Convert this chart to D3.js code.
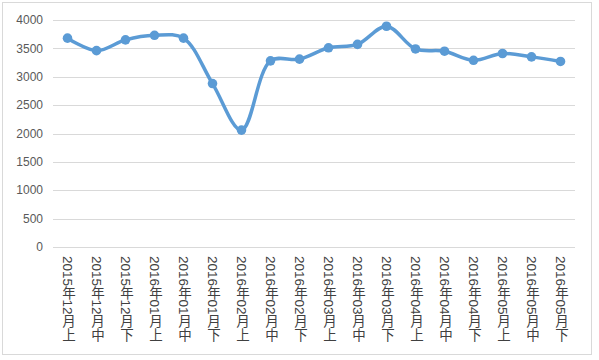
<!DOCTYPE html>
<html><head><meta charset="utf-8">
<script src="https://cdn.jsdelivr.net/npm/d3@7"></script>
<style>body{margin:0;background:#fff}svg{display:block}</style>
</head><body>
<svg id="c" width="599" height="360"></svg>
<script>
const categories = ["2015年12月上","2015年12月中","2015年12月下","2016年01月上","2016年01月中","2016年01月下","2016年02月上","2016年02月中","2016年02月下","2016年03月上","2016年03月中","2016年03月下","2016年04月上","2016年04月中","2016年04月下","2016年05月上","2016年05月中","2016年05月下"];
const values = [3680,3460,3650,3730,3680,2880,2060,3280,3310,3510,3570,3890,3490,3450,3290,3410,3350,3270];
const yTicks = [0,500,1000,1500,2000,2500,3000,3500,4000];

const svg = d3.select("#c");
svg.append("rect").attr("x",2.5).attr("y",2.5).attr("width",589).attr("height",352)
  .attr("fill","#fff").attr("stroke","#d9d9d9");

const x = d3.scaleBand().domain(categories).range([53,575]);
const y = d3.scaleLinear().domain([0,4000]).range([247,20]);

const font = "'Liberation Sans','Noto Sans CJK SC',sans-serif";

svg.append("g").selectAll("line").data(yTicks).join("line")
  .attr("x1",53).attr("x2",575)
  .attr("y1",d=>Math.round(y(d))+0.5).attr("y2",d=>Math.round(y(d))+0.5)
  .attr("stroke","#d9d9d9").attr("stroke-width",1);

svg.append("g").selectAll("text").data(yTicks).join("text")
  .attr("x",43).attr("y",d=>y(d)).attr("dy","0.35em")
  .attr("text-anchor","end").attr("fill","#595959")
  .style("font-family",font).style("font-size","12px").text(d=>d);

svg.append("g").selectAll("text").data(categories).join("text")
  .attr("x",d=>x(d)+x.bandwidth()/2).attr("y",256)
  .style("writing-mode","vertical-rl")
  .attr("fill","#404040")
  .style("font-family",font).style("font-size","13.5px").text(d=>d);

const pts = categories.map((c,i)=>[x(c)+x.bandwidth()/2, y(values[i])]);
svg.append("path").datum(pts)
  .attr("d", d3.line().curve(d3.curveCatmullRom.alpha(0.5)))
  .attr("fill","none").attr("stroke","#5b9bd5").attr("stroke-width",3.5)
  .attr("stroke-linejoin","round").attr("stroke-linecap","round");

svg.append("g").selectAll("circle").data(pts).join("circle")
  .attr("cx",d=>d[0]).attr("cy",d=>d[1]).attr("r",4.8).attr("fill","#5b9bd5");
</script>
</body></html>
